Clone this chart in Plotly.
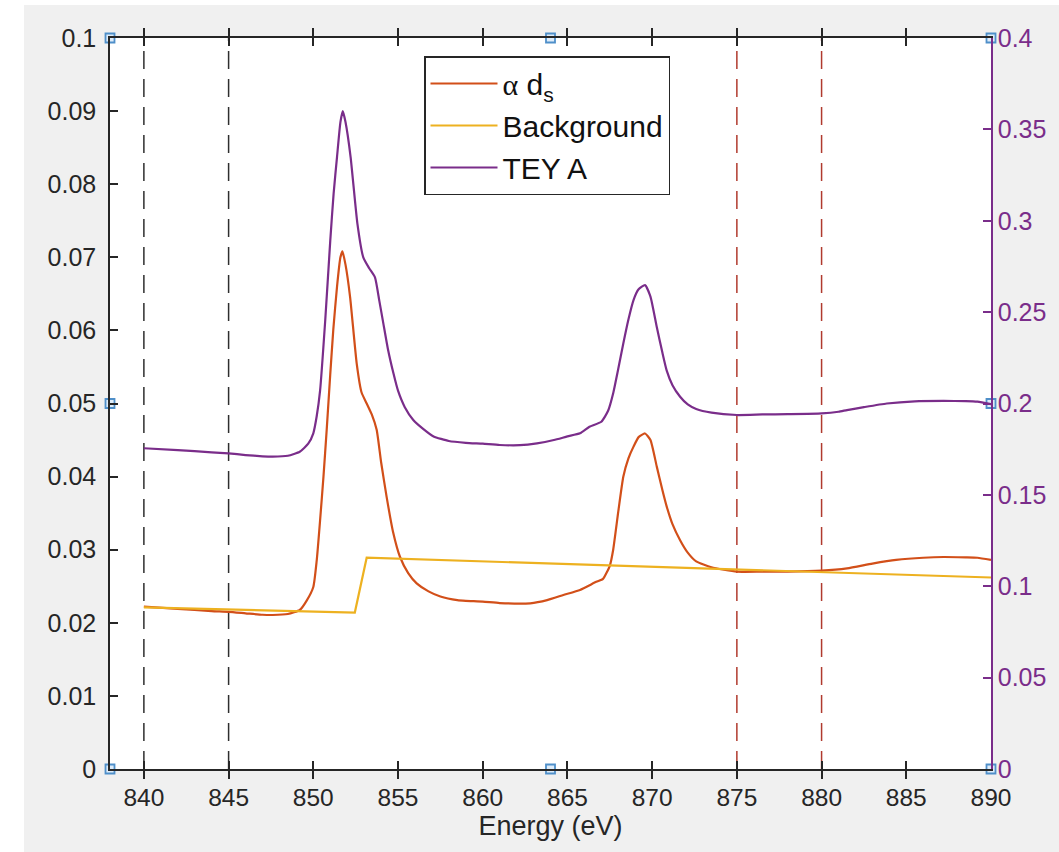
import plotly.graph_objects as go

# ---------------- data ----------------
tey_energy = [840.0, 842.0, 844.0, 845.0, 846.0, 847.0, 847.6, 848.5, 849.2, 849.7,
              850.0, 850.2, 850.4, 850.7, 851.0, 851.2, 851.4, 851.6, 851.74, 851.9,
              852.2, 852.6, 852.95, 853.3, 853.64, 853.9, 854.13, 854.4, 854.73, 855.0,
              855.4, 855.9, 856.5, 857.1, 858.0, 859.0, 860.0, 861.0, 862.2, 863.2,
              864.2, 865.0, 865.74, 866.3, 867.0, 867.4, 867.7, 868.0, 868.3, 868.6,
              868.9, 869.2, 869.58, 869.9, 870.27, 870.6, 870.86, 871.2, 871.65, 872.1,
              872.6, 873.5, 875.0, 876.5, 878.0, 880.0, 881.0, 881.5, 882.5, 883.85,
              885.5, 887.2, 888.5, 889.2, 890.0]
tey_a = [0.1755, 0.1745, 0.1733, 0.1727, 0.1718, 0.1711, 0.1709, 0.1714, 0.1736, 0.1780,
         0.1837, 0.1930, 0.2070, 0.2450, 0.2890, 0.3150, 0.3350, 0.3540, 0.3600, 0.3540,
         0.3350, 0.2986, 0.2800, 0.2740, 0.2690, 0.2560, 0.2440, 0.2300, 0.2165, 0.2070,
         0.1980, 0.1910, 0.1860, 0.1820, 0.1795, 0.1785, 0.1780, 0.1773, 0.1772, 0.1782,
         0.1800, 0.1820, 0.1837, 0.1873, 0.1900, 0.1960, 0.2056, 0.2190, 0.2330, 0.2460,
         0.2566, 0.2625, 0.2648, 0.2585, 0.2420, 0.2280, 0.2180, 0.2100, 0.2037, 0.1995,
         0.1970, 0.1950, 0.1937, 0.1940, 0.1942, 0.1946, 0.1955, 0.1964, 0.1980, 0.2000,
         0.2012, 0.2014, 0.2013, 0.2010, 0.1997]

ads_energy = [840.0, 842.0, 844.0, 845.0, 846.0, 847.0, 847.6, 848.5, 849.2, 849.6,
              850.0, 850.2, 850.4, 850.6, 850.79, 851.0, 851.18, 851.4, 851.6, 851.72,
              851.9, 852.17, 852.56, 852.85, 853.15, 853.45, 853.74, 854.0, 854.33, 854.7,
              855.12, 855.6, 856.1, 856.8, 857.5, 858.5, 859.0, 860.0, 861.0, 862.8,
              863.8, 864.76, 865.74, 866.7, 867.1, 867.3, 867.5, 867.7, 868.0, 868.3,
              868.6, 868.9, 869.2, 869.58, 869.9, 870.27, 870.6, 870.86, 871.2, 871.65,
              872.1, 872.6, 873.5, 875.0, 876.5, 878.0, 880.0, 881.5, 883.0, 884.4,
              886.0, 887.2, 888.5, 889.2, 890.0]
alpha_ds = [0.0222, 0.0219, 0.0216, 0.0215, 0.0213, 0.0211, 0.02107, 0.0212, 0.02175, 0.0230,
            0.0249, 0.0285, 0.0340, 0.0400, 0.0464, 0.0540, 0.0601, 0.0660, 0.0700, 0.0708,
            0.0690, 0.0646, 0.0555, 0.0515, 0.0500, 0.0485, 0.0464, 0.0420, 0.0372, 0.0325,
            0.0290, 0.0268, 0.0254, 0.0243, 0.0236, 0.0231, 0.0230, 0.0229, 0.0227, 0.02267,
            0.0231, 0.0238, 0.0245, 0.0256, 0.0260, 0.0268, 0.0278, 0.0300, 0.0352, 0.0400,
            0.0425, 0.0441, 0.0454, 0.0459, 0.0450, 0.0414, 0.0382, 0.0359, 0.0335, 0.0313,
            0.0296, 0.0284, 0.0276, 0.0270, 0.0270, 0.0270, 0.02713, 0.02745, 0.0281, 0.0286,
            0.0289, 0.0290, 0.02895, 0.0289, 0.0286]

bg_energy = [840.0, 852.45, 853.15, 890.0]
background = [0.0221, 0.0214, 0.0289, 0.0262]

pre_edge_lines = [840, 845]     # black dashed
post_edge_lines = [875, 880]    # red dashed

x_ticks = [840, 845, 850, 855, 860, 865, 870, 875, 880, 885, 890]
y_left_ticks = [0, 0.01, 0.02, 0.03, 0.04, 0.05, 0.06, 0.07, 0.08, 0.09, 0.1]
y_left_text = ["0", "0.01", "0.02", "0.03", "0.04", "0.05", "0.06", "0.07", "0.08", "0.09", "0.1"]
y_right_ticks = [0, 0.05, 0.1, 0.15, 0.2, 0.25, 0.3, 0.35, 0.4]
y_right_text = ["0", "0.05", "0.1", "0.15", "0.2", "0.25", "0.3", "0.35", "0.4"]

x_range = [838, 890]
y_left_range = [0, 0.1]
y_right_range = [0, 0.4]

# selection handles of the axes (corners and mid-edges)
handle_x = [838, 838, 838, 864, 864, 890, 890, 890]
handle_y = [0, 0.05, 0.1, 0.1, 0, 0.1, 0.05, 0]

# ---------------- style ----------------
C_ORANGE = "#D24F19"
C_YELLOW = "#EDB120"
C_PURPLE = "#7A2D8A"
C_AXIS = "#262626"
FONT = "Liberation Sans, Arial, Helvetica, sans-serif"

fig = go.Figure()

for xv in pre_edge_lines:
    fig.add_trace(go.Scatter(x=[xv, xv], y=y_left_range, mode="lines",
                             line=dict(color="#2e2e2e", width=1.5, dash="18px,10px"),
                             showlegend=False, hoverinfo="skip", yaxis="y"))
for xv in post_edge_lines:
    fig.add_trace(go.Scatter(x=[xv, xv], y=y_left_range, mode="lines",
                             line=dict(color="#b03a2e", width=1.5, dash="18px,10px"),
                             showlegend=False, hoverinfo="skip", yaxis="y"))

fig.add_trace(go.Scatter(x=ads_energy, y=alpha_ds, mode="lines",
                         name="<span style=\"font-family:'Liberation Serif', 'DejaVu Serif', serif\">α</span> d<sub>s</sub>",
                         line=dict(color=C_ORANGE, width=2.2, shape="spline", smoothing=0.5),
                         yaxis="y"))
fig.add_trace(go.Scatter(x=bg_energy, y=background, mode="lines", name="Background",
                         line=dict(color=C_YELLOW, width=2.2), yaxis="y"))
fig.add_trace(go.Scatter(x=tey_energy, y=tey_a, mode="lines", name="TEY A",
                         line=dict(color=C_PURPLE, width=2.2, shape="spline", smoothing=0.5),
                         yaxis="y2"))

fig.add_trace(go.Scatter(x=handle_x, y=handle_y, mode="markers", showlegend=False,
                         hoverinfo="skip", cliponaxis=False, yaxis="y",
                         marker=dict(symbol="square", size=9, color="rgba(220,235,250,0.9)",
                                     line=dict(color="#4f8fc9", width=1.8))))

W, H = 1059, 852
L, R, T, B = 110, 68, 38, 83
pw, ph = W - L - R, H - T - B

def px2x(p):
    return (p - L) / pw

def py2y(p):
    return 1 - (p - T) / ph

fig.update_layout(
    width=W, height=H,
    margin=dict(l=L, r=R, t=T, b=B, pad=0),
    paper_bgcolor="white",
    plot_bgcolor="white",
    font=dict(family=FONT, color=C_AXIS, size=24),
    showlegend=True,
    legend=dict(x=px2x(424), y=py2y(56), xanchor="left", yanchor="top",
                bgcolor="white", bordercolor=C_AXIS, borderwidth=1.5,
                font=dict(family=FONT, size=30, color="#111111"),
                itemwidth=67, tracegroupgap=0, traceorder="normal"),
    xaxis=dict(range=x_range, tickmode="array", tickvals=x_ticks,
               ticks="inside", ticklen=8, tickwidth=1.5, tickcolor=C_AXIS,
               showline=True, linecolor=C_AXIS, linewidth=1.5, mirror="allticks",
               showgrid=False, zeroline=False,
               tickfont=dict(size=24.5, color=C_AXIS), ticklabelstandoff=6,
               title=dict(text="Energy (eV)", font=dict(size=27, color=C_AXIS), standoff=4)),
    yaxis=dict(range=y_left_range, tickmode="array", tickvals=y_left_ticks, ticktext=y_left_text,
               ticks="inside", ticklen=8, tickwidth=1.5, tickcolor=C_AXIS,
               showline=True, linecolor=C_AXIS, linewidth=1.5,
               showgrid=False, zeroline=False,
               tickfont=dict(size=25, color=C_AXIS), ticklabelstandoff=7),
    yaxis2=dict(range=y_right_range, overlaying="y", side="right",
                tickmode="array", tickvals=y_right_ticks, ticktext=y_right_text,
                ticks="inside", ticklen=8, tickwidth=1.5, tickcolor=C_PURPLE,
                showline=True, linecolor=C_PURPLE, linewidth=1.5,
                showgrid=False, zeroline=False,
                tickfont=dict(size=25, color=C_PURPLE), ticklabelstandoff=0),
    shapes=[
        dict(type="rect", xref="paper", yref="paper", layer="below",
             x0=px2x(24), x1=px2x(W + 5), y0=py2y(H + 5), y1=py2y(5),
             fillcolor="#f0f0f0", line=dict(width=0)),
        dict(type="rect", xref="paper", yref="paper", layer="below",
             x0=0, x1=1, y0=0, y1=1, fillcolor="white", line=dict(width=0)),
    ],
)

fig.write_html("out.html", config={"displayModeBar": False},
               post_script="document.body.style.margin='0';")
